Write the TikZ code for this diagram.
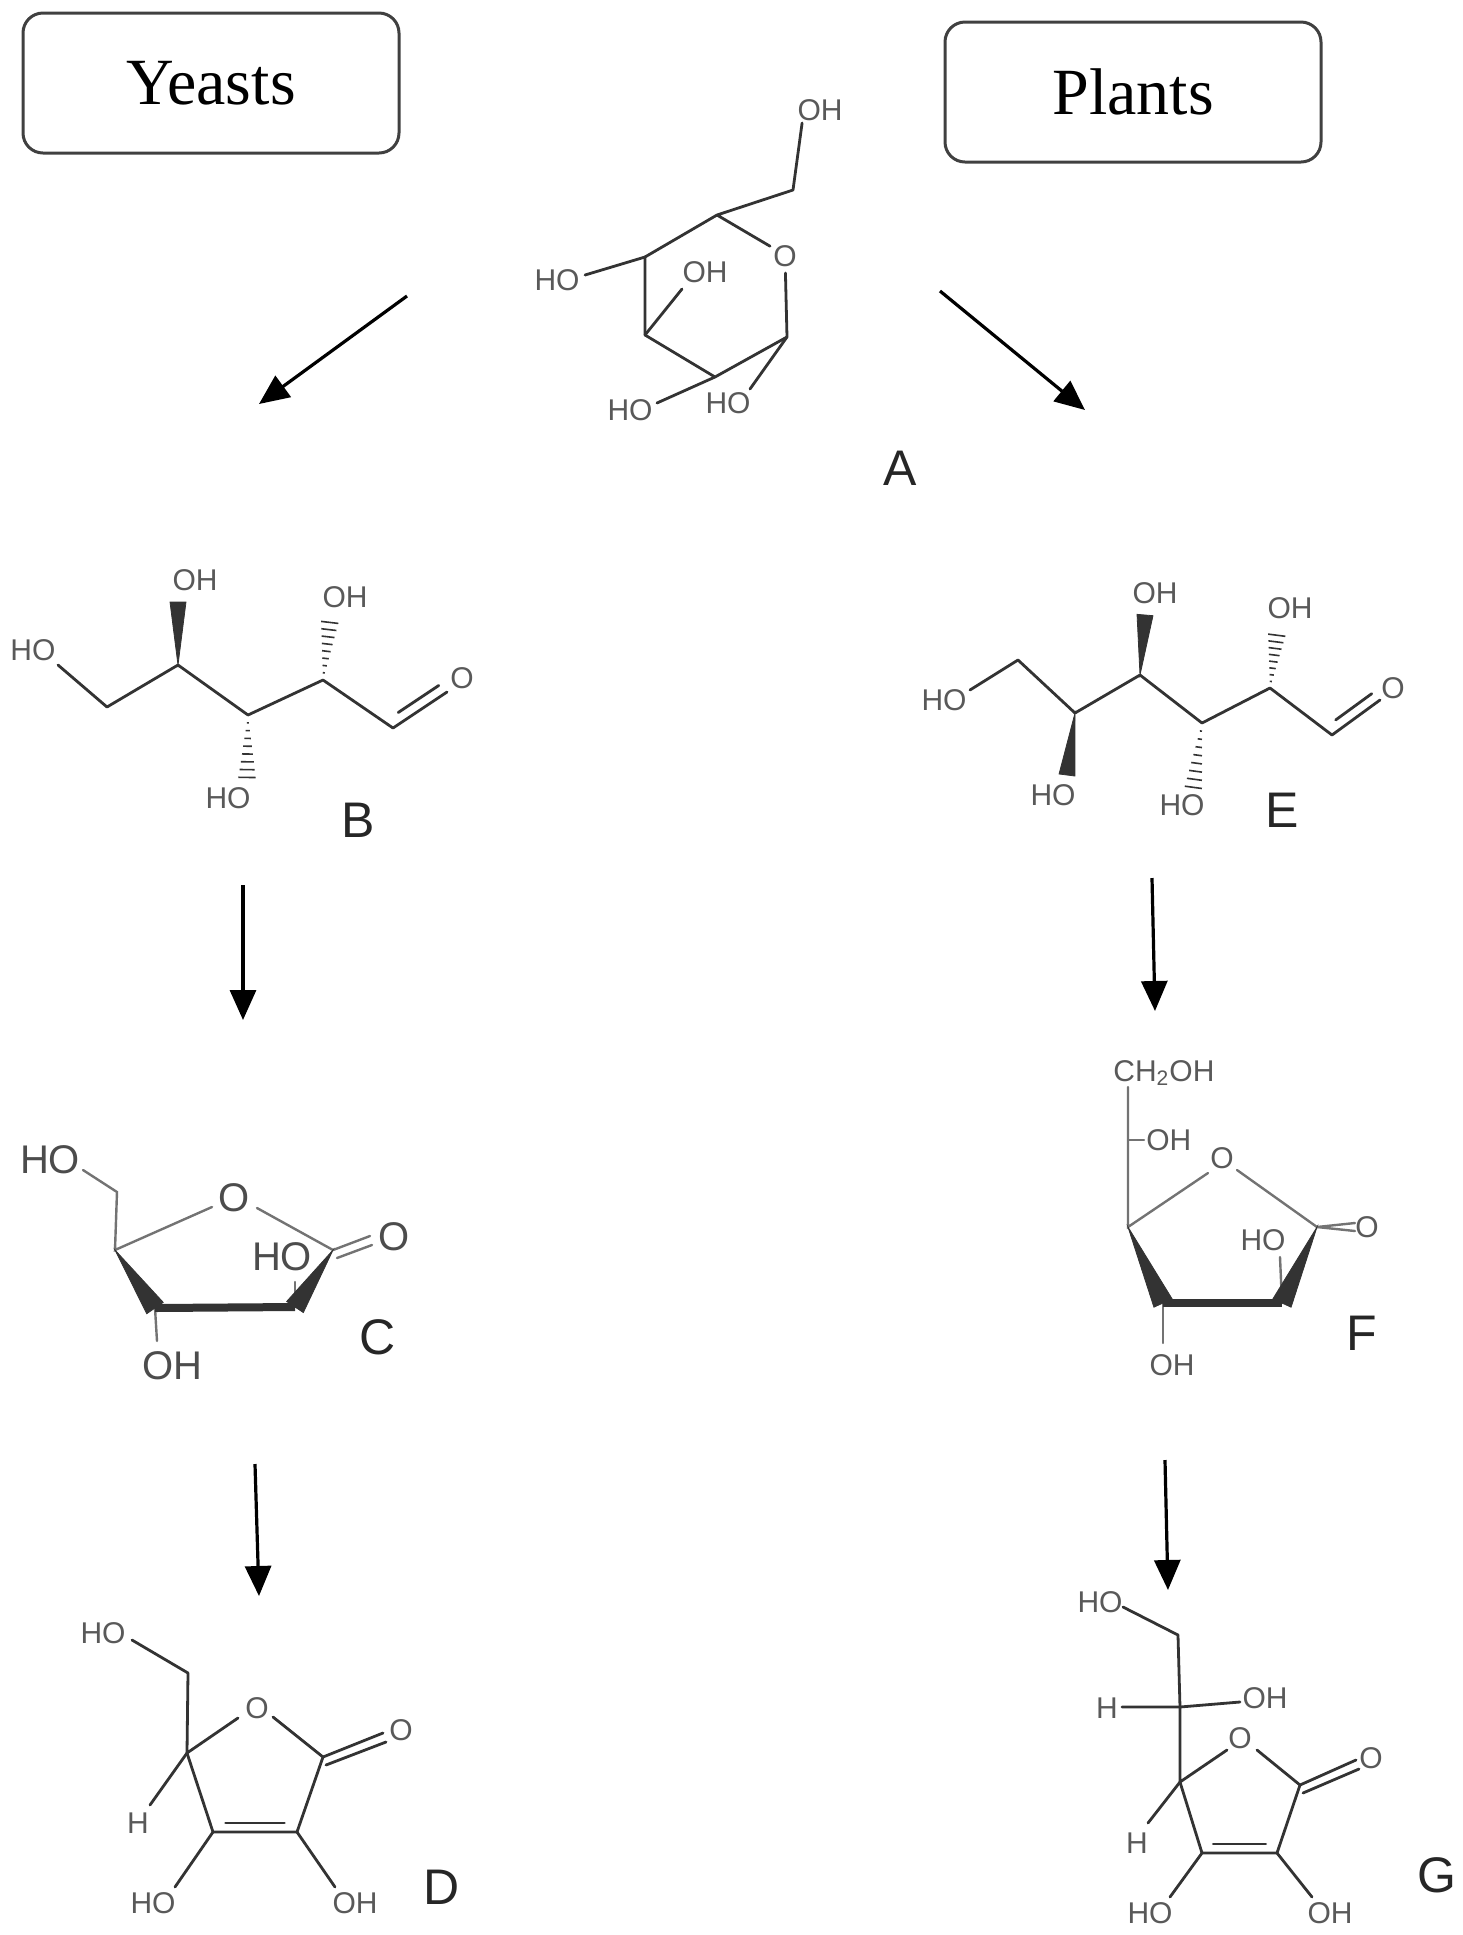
\documentclass[tikz,border=0pt]{standalone}
\usepackage{fontspec}
\setmainfont{Liberation Serif}
\setsansfont{Liberation Sans}
\usetikzlibrary{calc,arrows.meta}
\newcommand\bwedge[3][4]{\fill[bondc] (#2) -- ($(#3)!#1pt!90:(#2)$) -- ($(#3)!#1pt!-90:(#2)$) -- cycle;}
\newcommand\hwedge[2]{\foreach \t in {0.12,0.24,...,1.0}{\pgfmathsetmacro\dd{\t*4.5}\draw[bondc,line width=0.8pt] ($(#1)!\t!(#2)!\dd pt!90:(#1)$) -- ($(#1)!\t!(#2)!\dd pt!-90:(#1)$);}}
\newcommand\dblb[3]{\draw[bond] (#1) -- (#2); \draw[bond] ($(#1)!0.2!(#2)!#3!90:(#2)$) -- ($(#2)!0.05!(#1)!#3!-90:(#1)$);}
\begin{document}
\begin{tikzpicture}[x=0.5pt,y=-0.5pt,
  bondc/.style={fill=black!80,draw=black!80},
  bond/.style={draw=black!80,line width=1.4pt,line cap=round,line join=round},
  gbond/.style={draw=black!55,line width=1.2pt,line cap=round},
  atom/.style={font=\sffamily\fontsize{15}{15}\selectfont,text=black!65,inner sep=0pt},
  catom/.style={font=\sffamily\fontsize{20}{20}\selectfont,text=black!70,inner sep=0pt},
  letter/.style={font=\sffamily\fontsize{25}{25}\selectfont,text=black!85,inner sep=0pt},
  hbox/.style={draw=black!75,line width=1.5pt,rounded corners=10pt,minimum width=188pt,minimum height=70pt,font=\fontsize{33}{33}\selectfont},
  flow/.style={draw=black,line width=1.6pt,-{Triangle[length=15pt,width=13pt]}}]
\useasboundingbox (0,0) rectangle (1463,1935);
% boxes
\node[hbox] (yeasts) at (211,83) {Yeasts};
\node[hbox] (plants) at (1133,92) {Plants};
% ---------- A
\coordinate (a5) at (717,215); \coordinate (aO) at (785,255); \coordinate (a1) at (787,337);
\coordinate (a2) at (715,377); \coordinate (a3) at (645,335); \coordinate (a4) at (645,257);
\coordinate (a6) at (793,190);
\node[atom] (aoh6) at (820,110) {OH};
\node[atom] (aoe) at (785,256) {O};
\node[atom] (aho4) at (557,280) {HO};
\node[atom] (aoh3) at (705,272) {OH};
\node[atom] (aho2) at (630,410) {HO};
\node[atom] (aho1) at (728,403) {HO};
\draw[bond] (aoh6.south west)++(5,2) -- (a6) -- (a5) -- ($(a5)!0.78!(aO)$);
\draw[bond] ($(aO)!0.22!(a1)$) -- (a1) -- (a2) -- (a3) -- (a4) -- (a5);
\draw[bond] (a4) -- (585,275); \draw[bond] (a3) -- (682,289);
\draw[bond] (a2) -- (657,403); \draw[bond] (a1) -- (750,389);
\node[letter] (lA) at (900,468) {A};
% arrows from A
\coordinate (arL0) at (407,296); \coordinate (arL1) at (259,404);
\coordinate (arR0) at (940,291); \coordinate (arR1) at (1085,410);
\draw[flow] (arL0) -- (arL1);
\draw[flow] (arR0) -- (arR1);
% ---------- B
\coordinate (b1) at (107,707); \coordinate (b2) at (178,665); \coordinate (b3) at (248,715);
\coordinate (b4) at (323,680); \coordinate (b5) at (393,728); \coordinate (bO) at (447,692);
\node[atom] (bho) at (33,650) {HO};
\node[atom] (boh2) at (195,580) {OH};
\node[atom] (bho3) at (228,798) {HO};
\node[atom] (boh4) at (345,597) {OH};
\node[atom] (bo) at (462,678) {O};
\draw[bond] (58,665) -- (b1) -- (b2) -- (b3) -- (b4) -- (b5);
\dblb{b5}{bO}{5pt}
\bwedge{b2}{178,602}
\hwedge{b3}{247,780}
\hwedge{b4}{330,620}
\node[letter] (lB) at (358,820) {B};
% ---------- E
\coordinate (e1) at (1018,660); \coordinate (e2) at (1075,713); \coordinate (e3) at (1140,675);
\coordinate (e4) at (1202,723); \coordinate (e5) at (1270,688); \coordinate (e6) at (1332,735);
\coordinate (eO) at (1380,700);
\node[atom] (eho) at (944,700) {HO};
\node[atom] (eho2) at (1053,795) {HO};
\node[atom] (eoh3) at (1155,593) {OH};
\node[atom] (eho4) at (1182,805) {HO};
\node[atom] (eoh5) at (1290,608) {OH};
\node[atom] (eo) at (1393,688) {O};
\draw[bond] (970,690) -- (e1) -- (e2) -- (e3) -- (e4) -- (e5) -- (e6);
\dblb{e6}{eO}{5pt}
\bwedge{e2}{1067,775}
\bwedge{e3}{1145,615}
\hwedge{e4}{1193,790}
\hwedge{e5}{1277,633}
\node[letter] (lE) at (1282,810) {E};
% down arrows
\coordinate (bc0) at (243,885); \coordinate (bc1) at (243,1020);
\coordinate (ef0) at (1152,878); \coordinate (ef1) at (1155,1011);
\coordinate (cd0) at (255,1464); \coordinate (cd1) at (259,1596);
\coordinate (fg0) at (1165,1460); \coordinate (fg1) at (1168,1590);
\draw[flow] (bc0) -- (bc1); \draw[flow] (ef0) -- (ef1);
\draw[flow] (cd0) -- (cd1); \draw[flow] (fg0) -- (fg1);
% ---------- C
\coordinate (c6) at (117,1192); \coordinate (c4) at (115,1250); \coordinate (c1) at (333,1250);
\coordinate (c2) at (295,1307); \coordinate (c3) at (155,1308);
\node[catom] (cho) at (50,1160) {HO};
\node[catom] (co) at (234,1198) {O};
\node[catom] (coe) at (394,1237) {O};
\node[catom] (cho2) at (282,1257) {HO};
\node[catom] (coh3) at (172,1366) {OH};
\draw[gbond] (83,1170) -- (c6) -- (c4) -- (212,1207);
\draw[gbond] (257,1208) -- (c1);
\draw[gbond] (c1) -- (370,1236); \draw[gbond] ($(c1)+(4,8)$) -- (372,1245);
\draw[gbond] (c3) -- (157,1341);
\draw[gbond] (c2) -- (295,1282);
\bwedge[5]{c4}{c3}
\draw[bondc,line width=4pt] (c3) -- (c2);
\bwedge[5]{c1}{c2}
\node[letter] (lC) at (378,1337) {C};
% ---------- F
\coordinate (f6) at (1128,1087); \coordinate (f4) at (1128,1227); \coordinate (f1) at (1317,1227);
\coordinate (f2) at (1282,1303); \coordinate (f3) at (1163,1303); \coordinate (f5) at (1128,1140);
\node[atom,anchor=west] (fch) at (1113,1073) {CH\textsubscript{2}OH};
\node[atom,anchor=west] (foh5) at (1146,1140) {OH};
\node[atom] (fo) at (1222,1158) {O};
\node[atom] (foe) at (1367,1227) {O};
\node[atom] (fho2) at (1263,1240) {HO};
\node[atom] (foh3) at (1172,1365) {OH};
\draw[gbond] (f6) -- (f4) -- (1208,1173);
\draw[gbond] (f5) -- (1144,1140);
\draw[gbond] (1237,1170) -- (f1);
\draw[gbond] (f1) -- (1355,1223); \draw[gbond] (f1) -- (1355,1231);
\draw[gbond] (f3) -- (1163,1343);
\draw[gbond] (f2) -- (1280,1257);
\bwedge[5]{f4}{f3}
\draw[bondc,line width=4pt] (f3) -- (f2);
\bwedge[5]{f1}{f2}
\node[letter] (lF) at (1362,1333) {F};
% ---------- D
\coordinate (d6) at (188,1673); \coordinate (d4) at (187,1753); \coordinate (d1) at (323,1757);
\coordinate (d2) at (297,1832); \coordinate (d3) at (213,1832);
\node[atom] (dho) at (103,1633) {HO};
\node[atom] (do) at (257,1708) {O};
\node[atom] (doe) at (401,1730) {O};
\node[atom] (dh) at (138,1823) {H};
\node[atom] (dho3) at (153,1903) {HO};
\node[atom] (doh2) at (355,1903) {OH};
\draw[bond] (132,1640) -- (d6) -- (d4) -- (238,1718);
\draw[bond] (273,1717) -- (d1) -- (d2) -- (d3) -- (d4);
\draw[bond] ($(d3)!0.15!(d2)+(0,-9)$) -- ($(d2)!0.15!(d3)+(0,-9)$);
\draw[bond] (d1) -- (383,1733); \draw[bond] ($(d1)+(3,8)$) -- (386,1742);
\draw[bond] (d4) -- (150,1805);
\draw[bond] (d3) -- (175,1887); \draw[bond] (d2) -- (335,1887);
\node[letter] (lD) at (442,1887) {D};
% ---------- G
\coordinate (g7) at (1178,1635); \coordinate (g5) at (1180,1707); \coordinate (g4) at (1180,1782);
\coordinate (g1) at (1300,1785); \coordinate (g2) at (1277,1853); \coordinate (g3) at (1202,1853);
\node[atom] (gho) at (1100,1602) {HO};
\node[atom] (gh5) at (1107,1708) {H};
\node[atom] (goh5) at (1265,1698) {OH};
\node[atom] (go) at (1240,1738) {O};
\node[atom] (goe) at (1371,1758) {O};
\node[atom] (gh4) at (1137,1843) {H};
\node[atom] (gho3) at (1150,1913) {HO};
\node[atom] (goh2) at (1330,1913) {OH};
\draw[bond] (1123,1607) -- (g7) -- (g5) -- (g4) -- (1227,1750);
\draw[bond] (1122,1707) -- (g5) -- (1240,1702);
\draw[bond] (1257,1750) -- (g1) -- (g2) -- (g3) -- (g4);
\draw[bond] ($(g3)!0.15!(g2)+(0,-9)$) -- ($(g2)!0.15!(g3)+(0,-9)$);
\draw[bond] (g1) -- (1356,1760); \draw[bond] ($(g1)+(3,8)$) -- (1359,1769);
\draw[bond] (g4) -- (1148,1823);
\draw[bond] (g3) -- (1170,1897); \draw[bond] (g2) -- (1312,1897);
\node[letter] (lG) at (1437,1875) {G};
\end{tikzpicture}
\end{document}
